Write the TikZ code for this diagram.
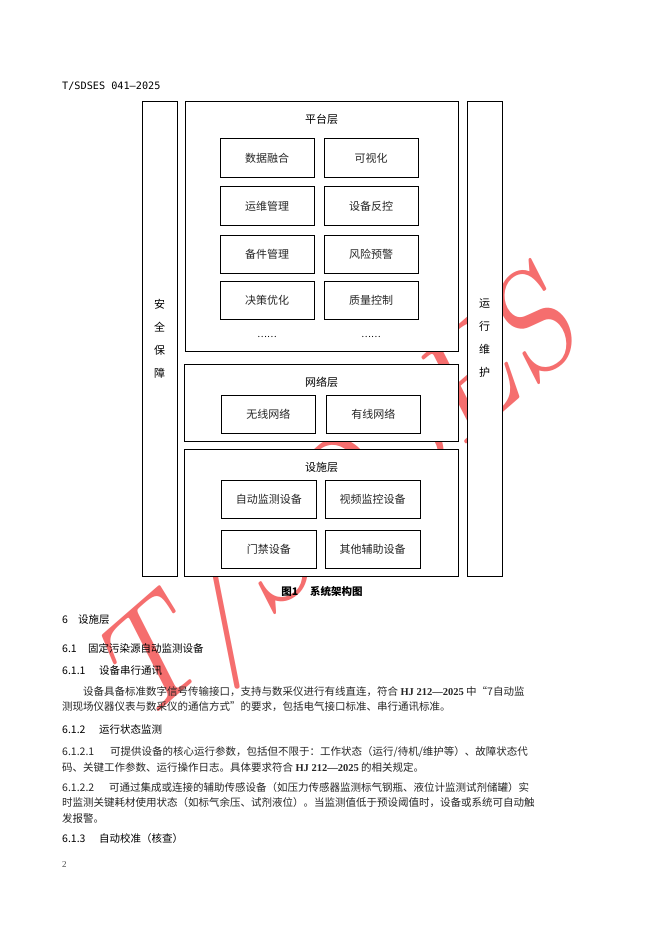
\documentclass[tikz,border=0pt]{standalone}
\usepackage{fontspec}
\setmainfont{Noto Sans CJK SC}
\newfontfamily\latinfont{Liberation Serif}
\newfontfamily\monofont{DejaVu Sans Mono}
\definecolor{markred}{RGB}{245,110,110}

\begin{document}
\begin{tikzpicture}[x=1pt, y=-1pt, font=\fontsize{11}{13}\selectfont,
  box/.style={draw, fill=white, line width=0.8pt, inner sep=0pt},
  cell/.style={box, minimum width=94pt, minimum height=38.5pt, text=black!85},
  line/.style={anchor=west, inner sep=0pt, font=\fontsize{10.5}{12}\selectfont}]
  \useasboundingbox[fill=white] (0,0) rectangle (662,936);
  % watermark, the boxes cover it
  \node[markred, rotate=41, font=\fontfamily{lmr}\itshape\fontsize{140}{140}\selectfont] (mark) at (340,508) {T/SDSES};

  \node[line, font=\monofont\fontsize{10.2}{12}\selectfont] (head) at (62,86) {T/SDSES 041—2025};

  % side columns
  \node[box, minimum width=35pt, minimum height=475pt, align=center,
    font=\fontsize{11}{23}\selectfont] (safe) at (159.5,338.5) {安\\全\\保\\障};
  \node[box, minimum width=35pt, minimum height=475pt, align=center,
    font=\fontsize{11}{23}\selectfont] (oper) at (484.5,338.5) {运\\行\\维\\护};

  % platform layer
  \node[box, minimum width=273pt, minimum height=250pt] (plat) at (321.5,226) {};
  \node (platlbl) at (321.5,119) {平台层};
  \foreach \n/\x/\y/\t in {p1/267/158/数据融合, p2/371/158/可视化,
      p3/267/206/运维管理, p4/371/206/设备反控,
      p5/267/254.5/备件管理, p6/371/254.5/风险预警,
      p7/267/300.5/决策优化, p8/371/300.5/质量控制}
    \node[cell] (\n) at (\x,\y) {\t};
  \node[font=\fontsize{9}{10}\selectfont] (dots1) at (267,337) {……};
  \node[font=\fontsize{9}{10}\selectfont] (dots2) at (371,337) {……};

  % network layer
  \node[box, minimum width=274pt, minimum height=77pt] (net) at (321.5,402.5) {};
  \node (netlbl) at (321.5,382) {网络层};
  \node[cell, minimum height=38pt] (n1) at (268.3,414.3) {无线网络};
  \node[cell, minimum height=38pt] (n2) at (373.3,414.3) {有线网络};

  % facility layer
  \node[box, minimum width=274pt, minimum height=127pt] (fac) at (321.5,512.5) {};
  \node (faclbl) at (321.5,467) {设施层};
  \foreach \n/\x/\y/\t in {f1/268.8/499.3/自动监测设备, f2/372.5/499.3/视频监控设备,
      f3/268.8/549.5/门禁设备, f4/372.5/549.5/其他辅助设备}
    \node[cell, minimum width=95pt, minimum height=38pt] (\n) at (\x,\y) {\t};

  \node[font=\bfseries\fontsize{10.5}{12}\selectfont] (cap) at (322,591) {图1\hspace{12pt}系统架构图};

  % text below
  \node[line] (s6) at (62,620) {\makebox[16pt][l]{6}设施层};
  \node[line] (s61) at (62,648) {\makebox[26pt][l]{6.1}固定污染源自动监测设备};
  \node[line] (s611) at (62,671) {\makebox[37pt][l]{6.1.1}设备串行通讯};
  \node[line, text=black!85] (t1) at (83,692) {设备具备标准数字信号传输接口，支持与数采仪进行有线直连，符合 {\latinfont\bfseries HJ 212—2025} 中“7自动监};
  \node[line, text=black!85] (t2) at (62,707) {测现场仪器仪表与数采仪的通信方式”的要求，包括电气接口标准、串行通讯标准。};
  \node[line] (s612) at (62,729.5) {\makebox[37pt][l]{6.1.2}运行状态监测};
  \node[line, text=black!85] (a1) at (62,752) {\makebox[48pt][l]{6.1.2.1}可提供设备的核心运行参数，包括但不限于：工作状态（运行/待机/维护等）、故障状态代};
  \node[line, text=black!85] (a2) at (62,767) {码、关键工作参数、运行操作日志。具体要求符合 {\latinfont\bfseries HJ 212—2025} 的相关规定。};
  \node[line, text=black!85] (b1) at (62,788) {\makebox[47pt][l]{6.1.2.2}可通过集成或连接的辅助传感设备（如压力传感器监测标气钢瓶、液位计监测试剂储罐）实};
  \node[line, text=black!85] (b2) at (62,803) {时监测关键耗材使用状态（如标气余压、试剂液位）。当监测值低于预设阈值时，设备或系统可自动触};
  \node[line, text=black!85] (b3) at (62,818) {发报警。};
  \node[line] (s613) at (62,838.5) {\makebox[37pt][l]{6.1.3}自动校准（核查）};
  \node[line, font=\latinfont\fontsize{9}{10}\selectfont, black!70] (page) at (62,865) {2};
\end{tikzpicture}
\end{document}
